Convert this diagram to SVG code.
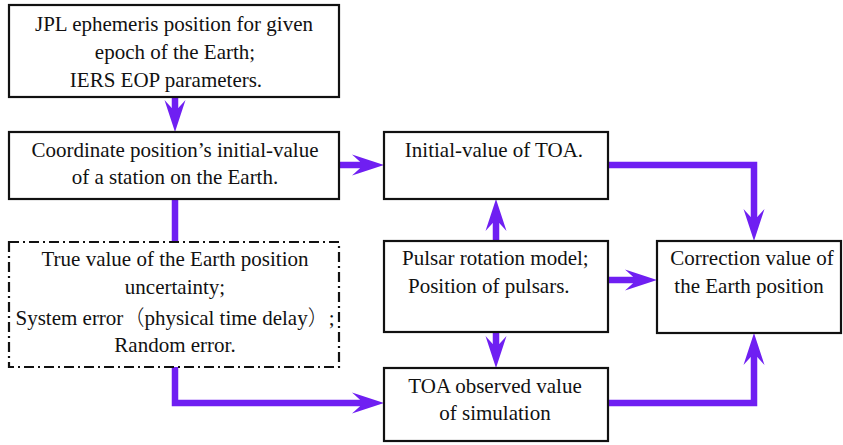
<svg xmlns="http://www.w3.org/2000/svg" width="843" height="445" viewBox="0 0 843 445">
<style>
.box{fill:#fff;stroke:#111;stroke-width:2.2}
.dash{fill:#fff;stroke:#111;stroke-width:2.2;stroke-dasharray:10 4 2 4}
.c{text-anchor:middle}
.con{fill:none;stroke:#6F1FF2;stroke-width:6.5;stroke-linejoin:miter}
</style>
<defs>
<marker id="ah" markerUnits="userSpaceOnUse" markerWidth="40" markerHeight="30" refX="0" refY="0" orient="auto" overflow="visible">
<path d="M24,0 L-8,-10.5 L0,-3.25 L0,3.25 L-8,10.5 Z" fill="#6F1FF2"/>
</marker>
</defs>
<rect width="843" height="445" fill="#fff"/>
<g id="connectors">
<path class="con" d="M175,97 V108" marker-end="url(#ah)"/>
<path class="con" d="M339,165 H360" marker-end="url(#ah)"/>
<path class="con" d="M608,165 H754 V217" marker-end="url(#ah)"/>
<path class="con" d="M175,199 V244"/>
<path class="con" d="M175,367 V403 H360" marker-end="url(#ah)"/>
<path class="con" d="M496,241 V223" marker-end="url(#ah)"/>
<path class="con" d="M496,332 V344" marker-end="url(#ah)"/>
<path class="con" d="M608,280 H633" marker-end="url(#ah)"/>
<path class="con" d="M608,403 H754 V357" marker-end="url(#ah)"/>
</g>
<g font-family="Liberation Serif, DejaVu Serif, serif" font-size="21" fill="#111">
<g id="jpl">
<rect class="box" x="9" y="5" width="330" height="92"/>
<text class="c" x="174" y="31">JPL ephemeris position for given</text>
<text class="c" x="175" y="59">epoch of the Earth;</text>
<text class="c" x="166" y="87">IERS EOP parameters.</text>
</g>
<g id="coord">
<rect class="box" x="9" y="132" width="330" height="67"/>
<text class="c" x="175" y="157">Coordinate position’s initial-value</text>
<text class="c" x="175" y="184">of a station on the Earth.</text>
</g>
<g id="errors">
<rect class="dash" x="9" y="242" width="330" height="125"/>
<text class="c" x="175" y="266">True value of the Earth position</text>
<text class="c" x="175" y="294">uncertainty;</text>
<text class="c" x="175" y="325">System error<tspan font-family="Noto Sans CJK SC, sans-serif" font-weight="300">（</tspan>physical time delay<tspan font-family="Noto Sans CJK SC, sans-serif" font-weight="300">）</tspan>;</text>
<text class="c" x="175" y="352">Random error.</text>
</g>
<g id="initial-toa">
<rect class="box" x="384" y="132" width="224" height="67"/>
<text class="c" x="494" y="157">Initial-value of TOA.</text>
</g>
<g id="pulsar">
<rect class="box" x="384" y="241" width="224" height="91"/>
<text x="402" y="265">Pulsar rotation model;</text>
<text x="408" y="293">Position of pulsars.</text>
</g>
<g id="toa-observed">
<rect class="box" x="384" y="368" width="224" height="73"/>
<text class="c" x="495" y="393">TOA observed value</text>
<text class="c" x="495" y="420">of simulation</text>
</g>
<g id="correction">
<rect class="box" x="657" y="241" width="184" height="92"/>
<text class="c" x="752" y="265">Correction value of</text>
<text class="c" x="749" y="293">the Earth position</text>
</g>
</g>
</svg>
